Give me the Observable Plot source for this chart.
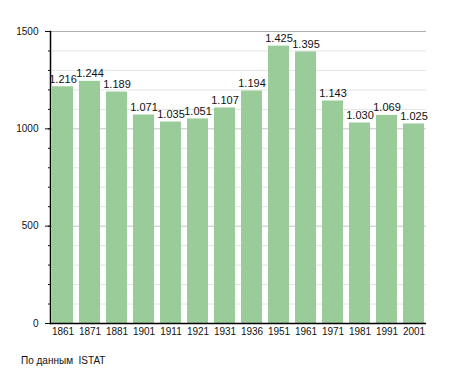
<!DOCTYPE html>
<html>
<head>
<meta charset="utf-8">
<script src="https://cdn.jsdelivr.net/npm/d3@7"></script>
<script src="https://cdn.jsdelivr.net/npm/@observablehq/plot@0.6"></script>
<style>
  body { margin: 0; background: #fff; font-family: "Liberation Sans", Arial, sans-serif; }
  #caption { position: absolute; left: 21px; top: 355px; font-size: 10px; color: #111; white-space: pre; }
</style>
</head>
<body>
<div id="chart"></div>
<div id="caption">По данным  ISTAT</div>
<script>
const years = ["1861","1871","1881","1901","1911","1921","1931","1936","1951","1961","1971","1981","1991","2001"];
const population = [1216,1244,1189,1071,1035,1051,1107,1194,1425,1395,1143,1030,1069,1025];
const majorTicks = [0, 500, 1000, 1500];
const minorTicks = d3.range(0, 1501, 100);

const data = years.map((y, i) => ({year: y, value: population[i]}));
const fmt = d3.formatLocale({decimal: ",", thousands: ".", grouping: [3]}).format(",");

const chart = Plot.plot({
  width: 455,
  height: 343,
  marginLeft: 50,
  marginRight: 29,
  marginTop: 31,
  marginBottom: 20,
  style: {fontFamily: "Liberation Sans, Arial, sans-serif", fontSize: "10px", color: "#111", background: "#fff"},
  x: {domain: years, paddingInner: 0.23, paddingOuter: 0.025, label: null},
  y: {domain: [0, 1500], label: null},
  marks: [
    Plot.ruleY(minorTicks.filter(d => d % 500 !== 0), {stroke: "#e4e4e4", strokeWidth: 1}),
    Plot.ruleY([500, 1000], {stroke: "#c4c4c4", strokeWidth: 1}),
    Plot.ruleY([1500], {stroke: "#b0b0b0", strokeWidth: 1}),
    Plot.barY(data, {x: "year", y: "value", fill: "#99cc99"}),
    Plot.text(data, {x: "year", y: "value", text: d => fmt(d.value), lineAnchor: "bottom", dy: -4, fontSize: 11, fill: "#111"}),
    Plot.axisY(minorTicks, {tickSize: 2, tickFormat: () => "", stroke: "#111", label: null}),
    Plot.axisY(majorTicks, {tickSize: 5, tickPadding: 7, stroke: "#111", fontSize: 10, tickFormat: d => String(d), label: null}),
    Plot.axisX({tickSize: 0, tickPadding: 4, fontSize: 10, label: null}),
    Plot.ruleY([0], {stroke: "#000", strokeWidth: 1.5}),
    Plot.frame({anchor: "left", stroke: "#000", strokeWidth: 1.5})
  ]
});
document.getElementById("chart").appendChild(chart);
</script>
</body>
</html>
